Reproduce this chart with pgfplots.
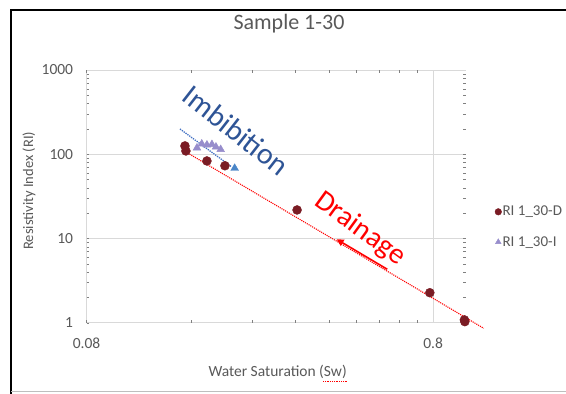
\documentclass[border=0pt]{standalone}
\usepackage{fontspec}
\setmainfont{Carlito}
\usepackage{pgfplots}
\pgfplotsset{compat=1.18}
\usetikzlibrary{arrows.meta}
\definecolor{txt}{HTML}{595959}
\definecolor{gridc}{HTML}{D9D9D9}
\definecolor{drain}{HTML}{7A1C24}
\definecolor{imb}{HTML}{978DCC}
\definecolor{imbblue}{HTML}{4A86C8}
\definecolor{imbtext}{HTML}{2E5496}
\definecolor{trendblue}{HTML}{4472C4}
\newcommand{\fs}[1]{\fontsize{#1bp}{#1bp}\selectfont}
\begin{document}
\begin{tikzpicture}[x=1bp,y=1bp]
\useasboundingbox (0,0) rectangle (566,393);
\fill[white] (0,0) rectangle (566,393);
\draw[black, line width=2bp] (11,-2) -- (11,383) -- (570,383);
\draw[gridc!70!gray, line width=1bp] (11,1.2) -- (570,1.2);
\begin{axis}[
  at={(86.6bp,70.3bp)}, anchor=south west,
  scale only axis, width=379bp, height=252.7bp,
  xmode=log, ymode=log,
  xmin=0.08, xmax=0.993, ymin=1, ymax=1000,
  xtick={0.08,0.8}, xticklabels={0.08,0.8},
  ytick={1,10,100,1000}, yticklabels={1,10,100,1000},
  minor tick num=0, minor xtick={}, minor ytick={},
  major tick length=0pt,
  axis line style={draw=none},
  grid=major, grid style={draw=gridc, line width=0.9bp},
  /pgf/number format/assume math mode=true,
  tick label style={font=\fs{15.5}, text=txt},
  xticklabel style={yshift=-12bp},
  yticklabel style={xshift=-10bp},
  title={Sample 1-30},
  title style={at={(axis description cs:0.534,1.158)}, anchor=center, font=\fs{22}, text=txt},
  xlabel={Water Saturation (Sw)},
  xlabel style={at={(axis description cs:0.504,-0.194)}, anchor=center, font=\fs{15.5}, text=txt},
  ylabel={Resistivity Index (RI)},
  ylabel style={at={(axis description cs:-0.152,0.522)}, anchor=center, rotate=0, font=\fs{14.5}, text=txt},
  clip=false,
  legend style={at={(axis description cs:1.077,0.379)}, anchor=west, draw=none, fill=none,
    font=\fs{15}, text=txt, row sep=17bp, inner sep=0pt,
    nodes={inner sep=1bp}},
  legend cell align=left,
  legend image code/.code={\draw[#1, mark size=3.3bp] plot coordinates {(0bp,0bp)};},
]
% trendlines
\addplot[red, densely dotted, line width=1.1bp, forget plot] coordinates {(0.1548,106.5) (1.12,0.858)};
\addplot[trendblue, densely dotted, line width=1.3bp, forget plot] coordinates {(0.1488,199.6) (0.210,70.7)};
% drainage
\addplot[only marks, mark=*, mark size=4.5bp, draw=drain, fill=drain] coordinates {
  (0.1538,125.5) (0.1548,109.4) (0.178,83.2) (0.2006,73) (0.324,21.8) (0.783,2.27) (0.988,1.03) (0.985,1.08)};
\addlegendentry{RI 1\_30-D}
% imbibition
\addplot[only marks, mark=triangle*, mark size=4.5bp, draw=imb, fill=imb] coordinates {
  (0.1666,118.8) (0.172,132.6) (0.178,128.9) (0.184,130.7) (0.189,122) (0.195,114)};
\addlegendentry{RI 1\_30-I}
\addplot[only marks, mark=triangle*, mark size=4.5bp, draw=imbblue, fill=imbblue, forget plot] coordinates {(0.214,68.2)};
% annotations
\node[rotate=-38, text=imbtext, font=\fs{30}] at (axis cs:0.216,192) {Imbibition};
\node[rotate=-36, text=red, font=\fs{29}] at (axis cs:0.492,13.0) {Drainage};
\draw[red, line width=1.6bp, -{Triangle[length=7bp,width=7bp]}] (axis cs:0.590,4.31) -- (axis cs:0.4215,9.78);
\end{axis}
\draw[red, densely dotted, line width=0.8bp] (323,12) -- (347,12);
\end{tikzpicture}
\end{document}
